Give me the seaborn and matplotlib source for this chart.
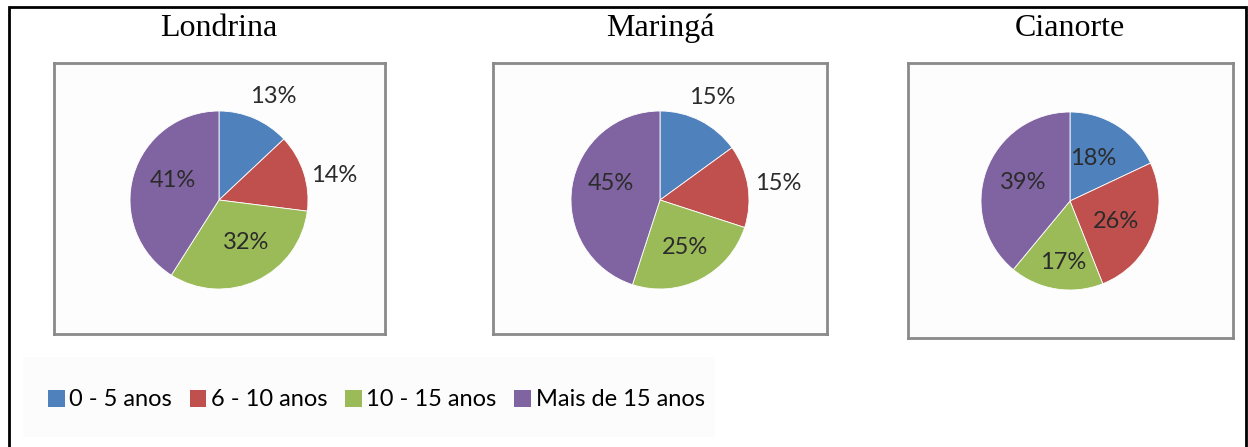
import matplotlib
matplotlib.use("Agg")
import matplotlib.pyplot as plt
from matplotlib.patches import Rectangle, Patch
import seaborn as sns

# --- dados ---
cidades = ["Londrina", "Maringá", "Cianorte"]
faixas = ["0 - 5 anos", "6 - 10 anos", "10 - 15 anos", "Mais de 15 anos"]
londrina = [13, 14, 32, 41]
maringa = [15, 15, 25, 45]
cianorte = [18, 26, 17, 39]
valores = [londrina, maringa, cianorte]

# --- layout (pixels da figura 1248x447) ---
W, H = 1248, 447
caixas = [(54, 63, 385, 334), (493, 63, 827, 334), (908, 63, 1233, 338)]
centros = [(219, 200), (660, 200), (1070, 201)]
raio = 89
# posição dos rótulos em unidades do raio (estilo "best fit" do Excel)
pos_rotulos = [
    [(0.61, 1.16), (1.29, 0.28), (0.31, -0.48), (-0.52, 0.22)],
    [(0.59, 1.15), (1.33, 0.19), (0.28, -0.53), (-0.55, 0.19)],
    [(0.26, 0.48), (0.52, -0.23), (-0.08, -0.69), (-0.53, 0.21)],
]

sns.set_theme(style="white")
plt.rcParams['font.family'] = ['Lato', 'DejaVu Sans']
cores = sns.color_palette(["#4F81BD", "#C0504D", "#9BBB59", "#8064A2"])

fig = plt.figure(figsize=(W / 100, H / 100), dpi=100)
fig.patch.set_facecolor("white")

def fx(x):
    return x / W

def fy(y):
    return 1 - y / H

# moldura externa
fig.add_artist(Rectangle((fx(9), -0.05), fx(1246) - fx(9), fy(7) + 0.05,
                         transform=fig.transFigure, fill=False,
                         edgecolor="black", linewidth=2))
# fundo suave da legenda
fig.add_artist(Rectangle((fx(23), fy(437)), fx(715) - fx(23), fy(357) - fy(437),
                         transform=fig.transFigure, facecolor="#fcfcfc",
                         edgecolor="none"))

for i, (nome, vals) in enumerate(zip(cidades, valores)):
    x0, y0, x1, y1 = caixas[i]
    cx, cy = centros[i]
    ax = fig.add_axes([fx(x0), fy(y1), fx(x1) - fx(x0), fy(y0) - fy(y1)])
    wedges, _ = ax.pie(vals, colors=cores, startangle=90, counterclock=False,
                       radius=1, frame=True,
                       wedgeprops=dict(edgecolor="white", linewidth=0.6))
    ax.set_aspect("auto")
    ax.set_xlim(-(cx - x0) / raio, (x1 - cx) / raio)
    ax.set_ylim(-(y1 - cy) / raio, (cy - y0) / raio)
    ax.set_xticks([])
    ax.set_yticks([])
    ax.set_facecolor("#fdfdfd")
    for sp in ax.spines.values():
        sp.set_visible(True)
        sp.set_color("#8a8a8a")
        sp.set_linewidth(2)
    for v, (px, py) in zip(vals, pos_rotulos[i]):
        ax.text(px, py, f"{v}%", ha="center", va="center",
                fontsize=17, color="#2b2b2b")
    fig.text(fx(cx), fy(28), nome, ha="center", va="center",
             family="Liberation Serif", fontsize=23, color="black")

handles = [Patch(facecolor=c, edgecolor="none") for c in cores]
fig.legend(handles, faixas, loc="center left", bbox_to_anchor=(fx(48), fy(400)),
           ncol=4, frameon=False, fontsize=17, handlelength=0.7,
           handleheight=0.7, handletextpad=0.2, columnspacing=0.75,
           borderaxespad=0, borderpad=0, labelcolor="black")

fig.savefig("out.png", dpi=100)
